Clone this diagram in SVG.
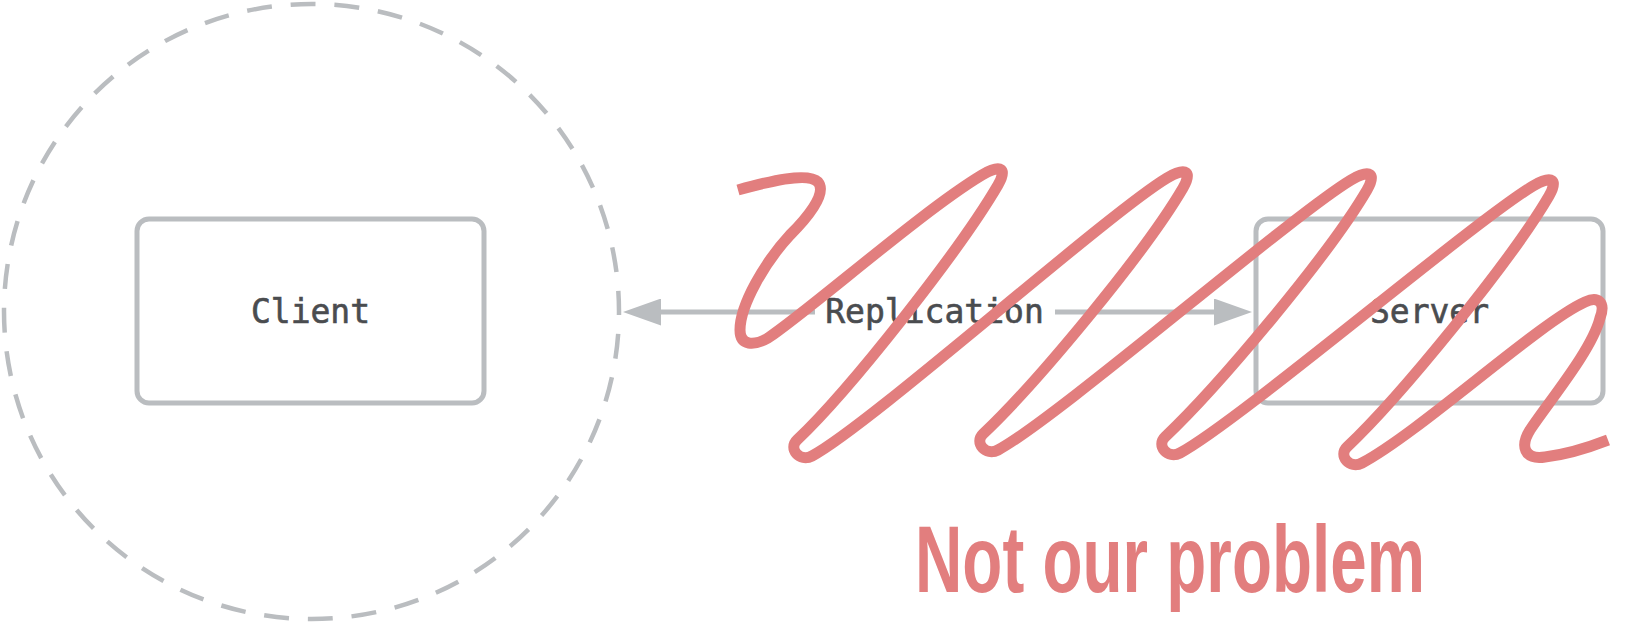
<svg xmlns="http://www.w3.org/2000/svg" width="1627" height="625" viewBox="0 0 1627 625">
  <defs>
    <style>
      .box { fill: #ffffff; stroke: #babdc0; stroke-width: 5; }
      .lbl { font-family: "DejaVu Sans Mono", "Liberation Mono", monospace; font-size: 33px; fill: #4a4c4f; stroke: #4a4c4f; stroke-width: 0.6; text-anchor: middle; }
      .conn { stroke: #babdc0; stroke-width: 5; fill: none; }
      .boundary { fill: none; stroke: #babdc0; stroke-width: 4.5; stroke-dasharray: 25 18.91; stroke-dashoffset: 21.5; }
      .scribble { fill: none; stroke: #e27e7e; stroke-width: 11; stroke-linecap: butt; stroke-linejoin: round; }
      .note { font-family: "Liberation Sans", Arial, sans-serif; font-weight: bold; font-size: 80px; fill: #e27e7e; }
    </style>
    <marker id="arrow" viewBox="0 0 38 27" refX="0" refY="13.5" markerWidth="38" markerHeight="27" markerUnits="userSpaceOnUse" orient="auto-start-reverse">
      <path d="M0,0 L38,13.5 L0,27 Z" fill="#babdc0"/>
    </marker>
  </defs>
  <rect width="1627" height="625" fill="#ffffff"/>

  <g id="client-boundary">
    <circle class="boundary" cx="311.5" cy="311.5" r="307.5"/>
  </g>

  <g id="client">
    <rect class="box" x="137" y="219" width="347" height="184" rx="12" ry="12"/>
    <text class="lbl" x="310.5" y="323">Client</text>
  </g>

  <g id="server">
    <rect class="box" x="1256" y="219" width="347" height="184" rx="12" ry="12"/>
    <text class="lbl" x="1429.5" y="323">Server</text>
  </g>

  <g id="connectors">
    <path class="conn" d="M661,312 L1214,312" marker-start="url(#arrow)" marker-end="url(#arrow)"/>
    <rect x="815" y="294" width="240" height="36" fill="#ffffff"/>
    <text class="lbl" x="934.5" y="323">Replication</text>
  </g>

  <g id="scribble">
    <path class="scribble" d="M738,190
      C770,181 808,172 818,182
      C828,194 805,220 790,235
      C765,262 740,305 740,330
      C740,346 754,346 768,338
      C810,310 922,211 982,175
      C1002,163 1007,169.5 998,185
      C960,250 850,390 797,440
      C788,448.5 799.5,462.5 812,456
      C870,425 1107,214 1167,178
      C1187,166 1192,172.5 1183,188
      C1145,253 1036,384 983,434
      C974,442.5 985.5,456.5 998,450
      C1056,419 1291,216 1351,180
      C1371,168 1376,174.5 1367,190
      C1329,255 1218,387 1165,437
      C1156,445.5 1167.5,459.5 1180,453
      C1238,422 1473,222 1533,186
      C1553,174 1558,180.5 1549,196
      C1511,261 1400,397 1347,447
      C1338,455.5 1349.5,469.5 1362,463
      C1420,432 1540,322 1585,302
      C1598,296 1606,302 1600,318
      C1592,350 1550,400 1530,430
      C1520,446 1524,460 1545,457
      C1570,454 1590,447 1608,440"/>
  </g>

  <g id="annotation">
    <text class="note" transform="translate(915 592) scale(1 1.175)" x="0" y="0" textLength="510" lengthAdjust="spacingAndGlyphs">Not our problem</text>
  </g>
</svg>
